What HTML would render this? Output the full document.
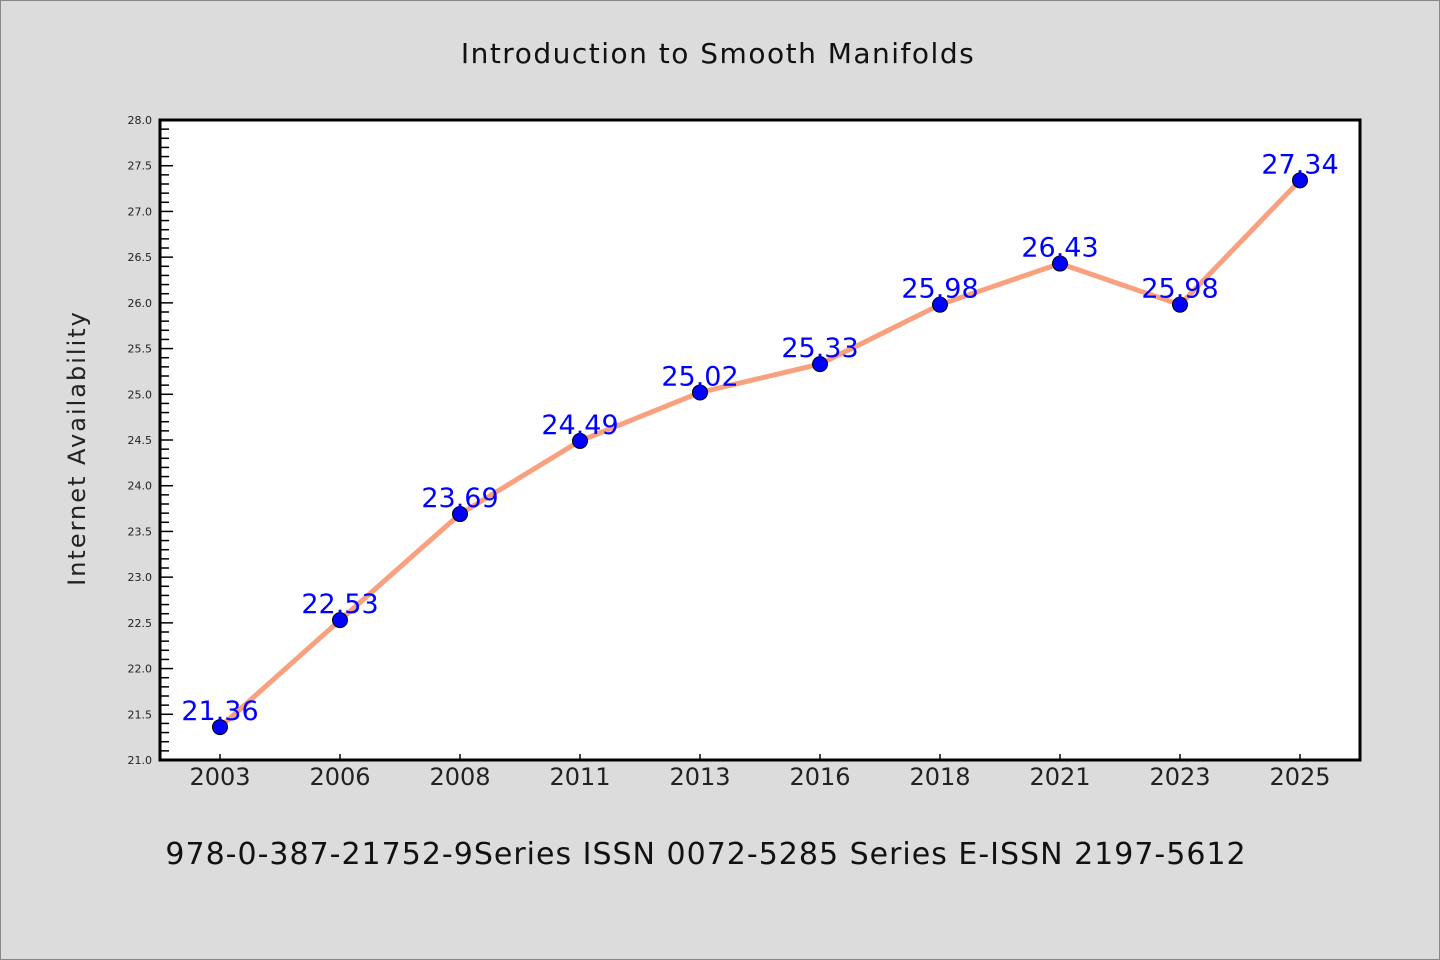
<!DOCTYPE html>
<html><head><meta charset="utf-8"><style>
body{margin:0;background:#dcdcdc;}
svg{display:block;font-family:"WenQuanYi Zen Hei","DejaVu Sans",sans-serif;}
</style></head><body>
<svg id="chart" width="1440" height="960">
<rect x="0.5" y="0.5" width="1439" height="959" fill="#dcdcdc" stroke="#888"/>
<text x="718" y="63" text-anchor="middle" font-size="28" letter-spacing="1.5" fill="#111">Introduction to Smooth Manifolds</text>
<text transform="translate(85,448) rotate(-90)" text-anchor="middle" font-size="24" letter-spacing="2" fill="#222">Internet Availability</text>
<text x="706" y="864" text-anchor="middle" font-size="30" letter-spacing="1" fill="#111">978-0-387-21752-9Series ISSN 0072-5285 Series E-ISSN 2197-5612</text>
<rect x="160" y="120" width="1200" height="640" fill="#fff"/>
<g id="ticks"></g><g id="series"></g>
<rect x="160" y="120" width="1200" height="640" fill="none" stroke="#000" stroke-width="3"/>
</svg>
<script>
const categories=["2003","2006","2008","2011","2013","2016","2018","2021","2023","2025"];
const values=[21.36,22.53,23.69,24.49,25.02,25.33,25.98,26.43,25.98,27.34];
const yTicks=["21.0","21.5","22.0","22.5","23.0","23.5","24.0","24.5","25.0","25.5","26.0","26.5","27.0","27.5","28.0"];
const NS="http://www.w3.org/2000/svg";
const L=160,R=1360,T=120,B=760,yMin=21,yMax=28;
const xS=i=>L+(R-L)/categories.length*(i+0.5);
const yS=v=>B-(v-yMin)/(yMax-yMin)*(B-T);
function mk(t,a,p){const e=document.createElementNS(NS,t);for(const k in a)e.setAttribute(k,a[k]);p.appendChild(e);return e;}
const tg=document.getElementById('ticks'),sg=document.getElementById('series');
for(let k=0;k<=70;k++){const v=yMin+k*0.1,y=yS(v),maj=k%5===0;
 const ln=mk('line',{x1:L,x2:L+(maj?13:9),y1:y,y2:y,stroke:'#000','stroke-width':1.5},tg);
 
 }
yTicks.forEach(s=>{const t=mk('text',{x:152,y:yS(parseFloat(s))+4,'text-anchor':'end','font-size':11,fill:'#222'},tg);t.textContent=s;
 
 });
categories.forEach((c,i)=>{const x=xS(i);
 const ln=mk('line',{x1:x,x2:x,y1:B,y2:B-6,stroke:'#000','stroke-width':1.5},tg);
 
 
 const t=mk('text',{x:x,y:785,'text-anchor':'middle','font-size':24,fill:'#222'},tg);t.textContent=c;
 
 });
const pl=mk('polyline',{points:values.map((v,i)=>xS(i)+','+yS(v)).join(' '),fill:'none',stroke:'#f9a07e','stroke-width':5,'stroke-linejoin':'round'},sg);


values.forEach((v,i)=>{
 const c=mk('circle',{cx:xS(i),cy:yS(v),r:7.5,fill:'#0000ff',stroke:'#000','stroke-width':1},sg);
 
 
 const t=mk('text',{x:xS(i),y:yS(v)-7,'text-anchor':'middle','font-size':27,fill:'#0000ff'},sg);t.textContent=v.toFixed(2);
 
 });
</script>
</body></html>
